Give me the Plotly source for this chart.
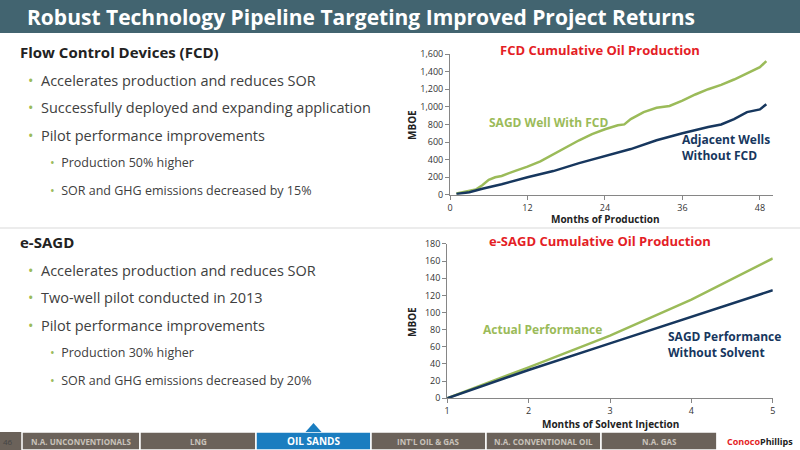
import plotly.graph_objects as go

# FCD chart data
fcd_months = [1, 3, 4, 5, 6, 7, 8, 10, 12, 14, 16, 18, 20, 22, 24, 26, 27, 28, 30, 32, 34, 36, 38, 40, 42, 44, 46, 48, 49]
fcd_with = [15, 40, 60, 110, 170, 200, 215, 270, 320, 380, 460, 540, 620, 690, 745, 790, 800, 860, 940, 990, 1010, 1070, 1140, 1200, 1250, 1310, 1380, 1450, 1520]
adj_months = [1, 3, 5, 8, 12, 16, 20, 24, 28, 32, 36, 40, 42, 44, 46, 48, 49]
adj_without = [10, 30, 70, 120, 200, 270, 360, 440, 520, 620, 700, 770, 800, 860, 940, 970, 1030]

# e-SAGD chart data
esagd_months = [1, 2, 3, 4, 5]
esagd_actual = [0, 36, 73, 115, 163]
esagd_nosolvent = [0, 33, 64, 95, 126]

tabs = ["N.A. UNCONVENTIONALS", "LNG", "OIL SANDS", "INT'L OIL & GAS", "N.A. CONVENTIONAL OIL", "N.A. GAS"]
tab_edges = [22, 140, 256, 371, 486, 601, 717]

GREEN = "#9bbb59"
BLUE = "#17375e"
RED = "#e41e26"
FONT = "Open Sans"

fig = go.Figure()
fig.add_trace(go.Scatter(x=fcd_months, y=fcd_with, mode="lines", line=dict(color=GREEN, width=2.5), xaxis="x", yaxis="y"))
fig.add_trace(go.Scatter(x=adj_months, y=adj_without, mode="lines", line=dict(color=BLUE, width=2.5), xaxis="x", yaxis="y"))
fig.add_trace(go.Scatter(x=esagd_months, y=esagd_actual, mode="lines", line=dict(color=GREEN, width=2.5), xaxis="x2", yaxis="y2"))
fig.add_trace(go.Scatter(x=esagd_months, y=esagd_nosolvent, mode="lines", line=dict(color=BLUE, width=2.5), xaxis="x2", yaxis="y2"))

ax = dict(showgrid=False, linecolor="#868686", ticks="outside", tickcolor="#868686", ticklen=4,
          tickfont=dict(size=9, color="#333"), zeroline=False, automargin=False)
fig.update_layout(
    width=800, height=450, margin=dict(l=0, r=0, t=0, b=0, autoexpand=False), showlegend=False,
    paper_bgcolor="white", plot_bgcolor="white", font=dict(family=FONT),
    xaxis=dict(ax, domain=[0.5625, 0.966], range=[0, 50], tickvals=[0, 12, 24, 36, 48], anchor="y"),
    yaxis=dict(ax, domain=[0.567, 0.88], range=[0, 1600], dtick=200, tickformat=",", anchor="x"),
    xaxis2=dict(ax, domain=[0.559, 0.966], range=[1, 5], dtick=1, anchor="y2"),
    yaxis2=dict(ax, domain=[0.115, 0.458], range=[0, 180], dtick=20, anchor="x2"),
)

shapes = [
    dict(type="rect", xref="paper", yref="paper", x0=0, x1=1, y0=1 - 33 / 450, y1=1, fillcolor="#426470", line_width=0, layer="below"),
    dict(type="line", xref="paper", yref="paper", x0=0, x1=1, y0=1 - 228 / 450, y1=1 - 228 / 450, line=dict(color="#d9d9d9", width=1)),
    dict(type="rect", xref="paper", yref="paper", x0=0, x1=1, y0=0, y1=18 / 450, fillcolor="#6b625a", line_width=0),
]
anns = [
    dict(text="<b>Robust Technology Pipeline Targeting Improved Project Returns</b>", x=25 / 800, y=1 - 17 / 450,
         xanchor="left", yanchor="middle", font=dict(size=21, color="white")),
    dict(text="<b>FCD Cumulative Oil Production</b>", x=600 / 800, y=1 - 50 / 450, font=dict(size=13, color=RED)),
    dict(text="<b>e-SAGD Cumulative Oil Production</b>", x=600 / 800, y=1 - 241 / 450, font=dict(size=13, color=RED)),
    dict(text="<b>Months of Production</b>", x=605 / 800, y=1 - 219 / 450, font=dict(size=10, color="#222")),
    dict(text="<b>Months of Solvent Injection</b>", x=610 / 800, y=1 - 424 / 450, font=dict(size=10, color="#222")),
    dict(text="<b>MBOE</b>", x=412 / 800, y=1 - 125 / 450, textangle=-90, font=dict(size=10, color="#222")),
    dict(text="<b>MBOE</b>", x=412 / 800, y=1 - 322 / 450, textangle=-90, font=dict(size=10, color="#222")),
    dict(text="<b>SAGD Well With FCD</b>", x=548 / 800, y=1 - 123 / 450, font=dict(size=12, color=GREEN)),
    dict(text="<b>Adjacent Wells<br>Without FCD</b>", x=680 / 800, y=1 - 147 / 450, xanchor="left", align="left",
         font=dict(size=12, color=BLUE)),
    dict(text="<b>Actual Performance</b>", x=542 / 800, y=1 - 329 / 450, font=dict(size=12, color=GREEN)),
    dict(text="<b>SAGD Performance<br>Without Solvent</b>", x=666 / 800, y=1 - 344 / 450, xanchor="left", align="left",
         font=dict(size=12, color=BLUE)),
    dict(text="46", x=8 / 800, y=9 / 450, font=dict(size=8, color="#444")),
    dict(text="<b><span style='color:#e41e26'>Conoco</span>Phillips</b>", x=760 / 800, y=9 / 450, font=dict(size=9, color="#222")),
]

sections = [
    (52, "Flow Control Devices (FCD)", [
        (0, "Accelerates production and reduces SOR"),
        (0, "Successfully deployed and expanding application"),
        (0, "Pilot performance improvements"),
        (1, "Production 50% higher"),
        (1, "SOR and GHG emissions decreased by 15%")]),
    (242, "e-SAGD", [
        (0, "Accelerates production and reduces SOR"),
        (0, "Two-well pilot conducted in 2013"),
        (0, "Pilot performance improvements"),
        (1, "Production 30% higher"),
        (1, "SOR and GHG emissions decreased by 20%")]),
]
for top, head, items in sections:
    anns.append(dict(text="<b>" + head + "</b>", x=18 / 800, y=1 - top / 450, xanchor="left",
                     font=dict(size=15, color="#222")))
    for i, (lvl, txt) in enumerate(items):
        y = top + 28 + i * 27.5
        size = 14.5 if lvl == 0 else 12.5
        x = 26 if lvl == 0 else 48
        anns.append(dict(text="<span style='color:#9bbb59'>•</span>  " + txt, x=x / 800, y=1 - y / 450,
                         xanchor="left", font=dict(size=size, color="#404040")))

# footer tabs
for i, name in enumerate(tabs):
    x0, x1 = tab_edges[i], tab_edges[i + 1]
    active = name == "OIL SANDS"
    shapes.append(dict(type="rect", xref="paper", yref="paper", x0=x0 / 800, x1=x1 / 800, y0=0, y1=18 / 450,
                       fillcolor="#1a7dc0" if active else "#6b625a", line=dict(color="white", width=1.5)))
    anns.append(dict(text="<b>" + name + "</b>", x=(x0 + x1) / 1600, y=9 / 450,
                     font=dict(size=10 if active else 8, color="white" if active else "#c9c2ba")))
    if active:
        mid = (x0 + x1) / 2
        shapes.append(dict(type="path", xref="paper", yref="paper",
                           path=f"M {(mid - 8) / 800} {18 / 450} L {mid / 800} {27 / 450} L {(mid + 8) / 800} {18 / 450} Z",
                           fillcolor="#1a7dc0", line_width=0))
shapes.append(dict(type="rect", xref="paper", yref="paper", x0=tab_edges[-1] / 800, x1=1, y0=0, y1=18 / 450,
                   fillcolor="white", line=dict(color="white", width=1)))

for a in anns:
    a.update(xref="paper", yref="paper", showarrow=False)
    a.setdefault("xanchor", "center")
    a.setdefault("yanchor", "middle")
fig.update_layout(shapes=shapes, annotations=anns)
fig.write_html("out.html", config={"displayModeBar": False},
               post_script="document.body.style.margin='0';")
